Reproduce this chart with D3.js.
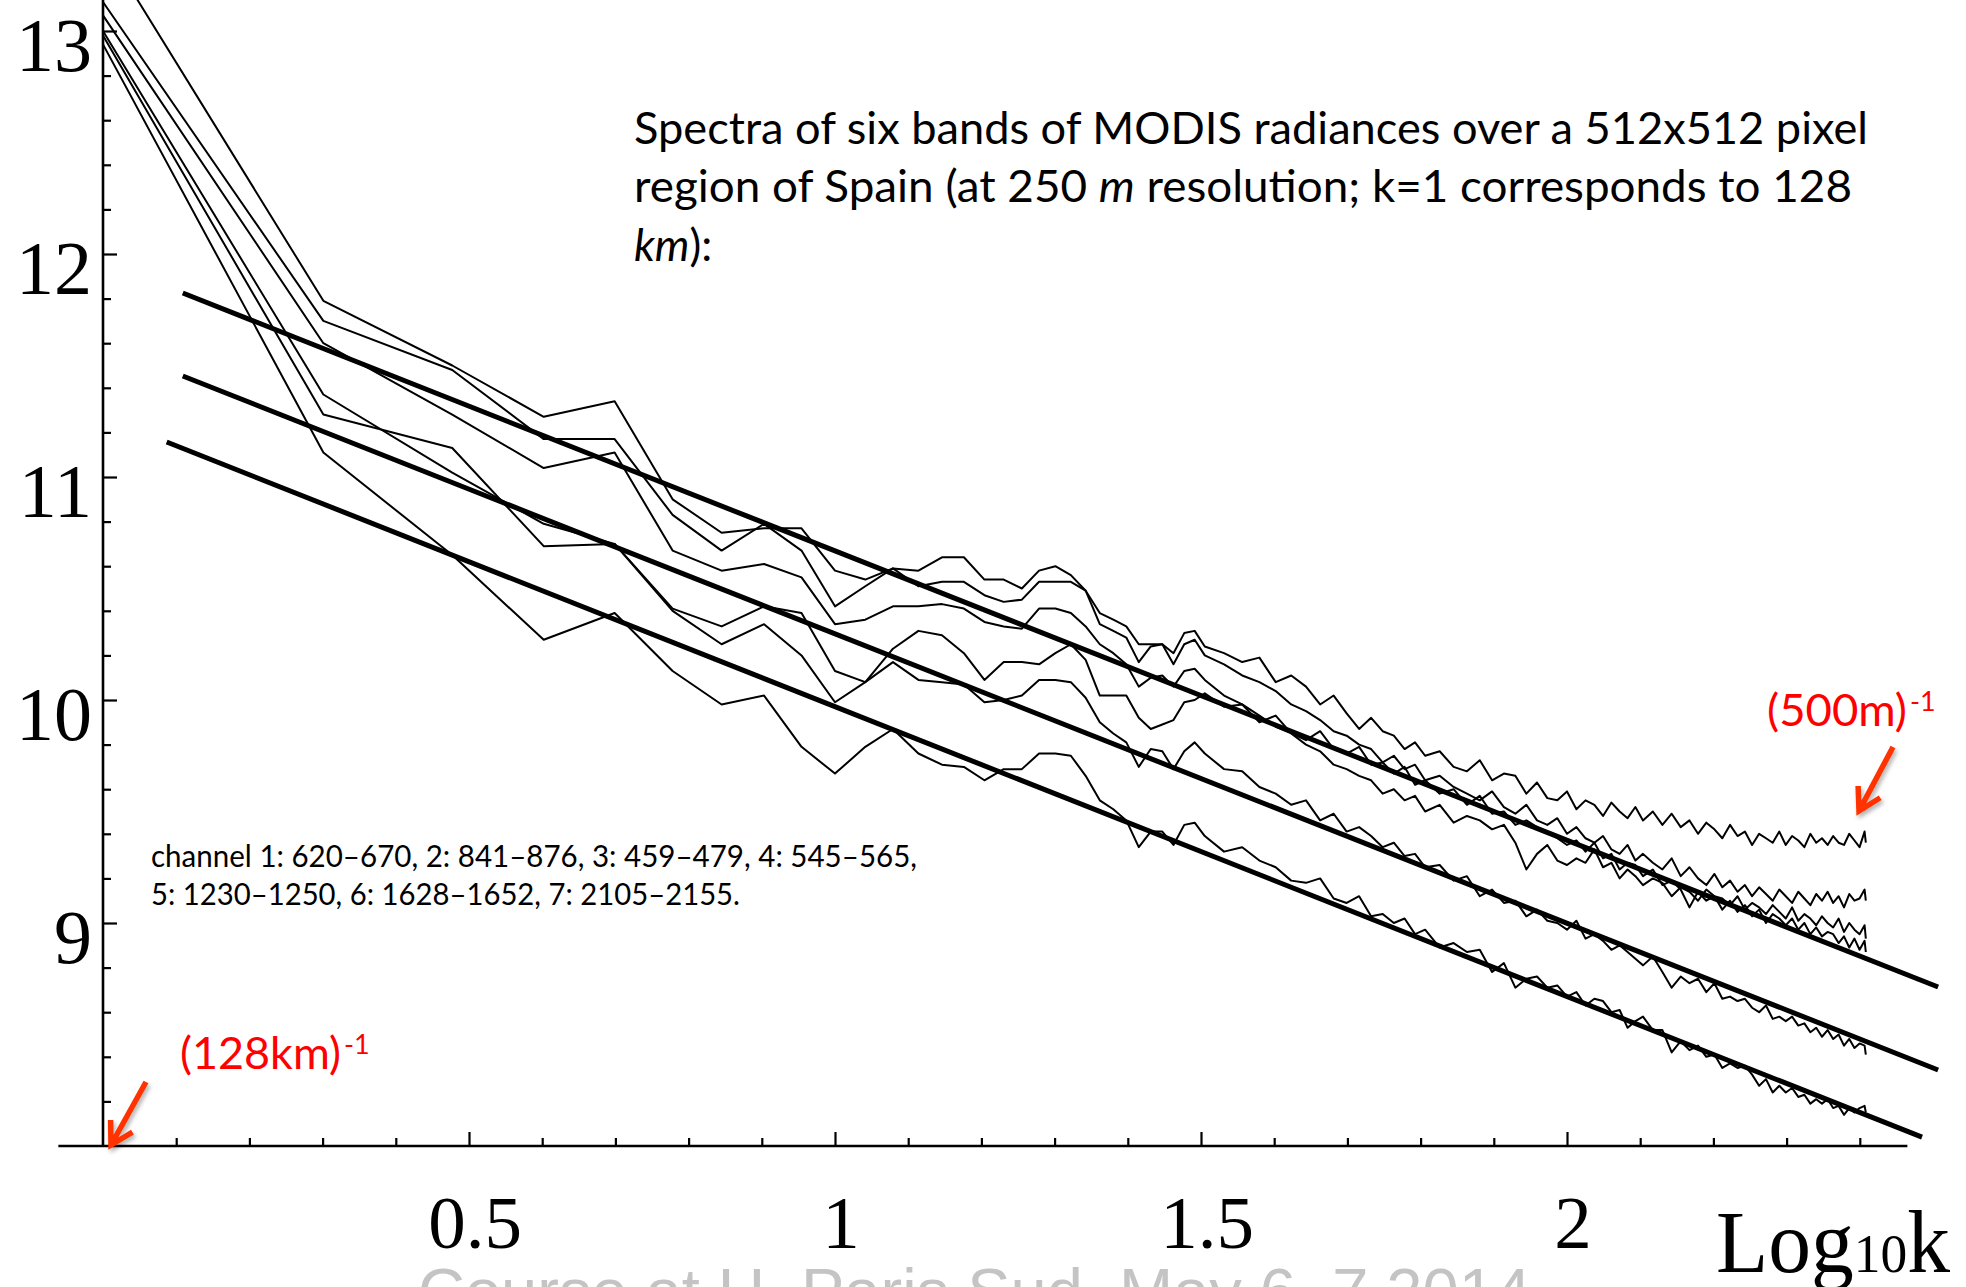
<!DOCTYPE html>
<html>
<head>
<meta charset="utf-8">
<script src="https://cdn.jsdelivr.net/npm/d3@7"></script>
<style>
  html, body { margin: 0; padding: 0; background: #fff; }
  #spectra-plot-container { width: 1966px; height: 1287px; overflow: hidden; }
</style>
</head>
<body>
<div id="spectra-plot-container"></div>
<script>
(function () {
"use strict";

////////////////////////////////////////////////////////////////////////////////
//
// MODIS radiance spectra over Spain, log10 E(k) vs log10 k
//
////////////////////////////////////////////////////////////////////////////////

// wavenumbers sampled (k=1 <-> 128 km)
var kLow = [1, 2, 3, 4, 5, 6, 7, 8, 9, 10, 11, 12, 13, 14, 15, 16, 17, 18, 19, 20,
  21, 22, 23, 24, 25, 26, 27, 28, 29, 30, 31];
var kHigh = [32, 34, 36, 38, 40, 42, 44, 46, 48, 50, 52, 54, 56, 58, 60, 62, 64,
  67, 70, 73, 76, 79, 82, 85, 88, 91, 94, 97, 100, 103, 106, 109, 112, 115, 118, 121, 124, 127,
  131, 135, 139, 143, 147, 151, 155, 159, 163, 167, 171, 175, 179, 183, 187, 191, 195, 199, 203, 207,
  211, 215, 219, 223, 227, 231, 235, 239, 243, 247, 251, 255, 256];

// log10 spectral density, one pair of arrays per band
var band1Low = [13.39, 11.79, 11.50, 11.27, 11.34, 10.90, 10.75, 10.77, 10.77, 10.58, 10.54, 10.59, 10.58, 10.64, 10.64, 10.54, 10.54, 10.50, 10.58, 10.60,
  10.56, 10.49, 10.39, 10.36, 10.33, 10.25, 10.25, 10.25, 10.21, 10.30, 10.31];
var band1High = [10.24, 10.21, 10.17, 10.19, 10.08, 10.11, 10.06, 9.98, 10.02, 9.94, 9.87, 9.92, 9.86, 9.84, 9.78, 9.81, 9.75,
  9.77, 9.70, 9.68, 9.73, 9.64, 9.67, 9.66, 9.58, 9.63, 9.56, 9.55, 9.59, 9.51, 9.55, 9.53, 9.48, 9.54, 9.50, 9.47, 9.52, 9.46,
  9.50, 9.44, 9.49, 9.43, 9.46, 9.40, 9.45, 9.42, 9.38, 9.44, 9.39, 9.41, 9.35, 9.40, 9.38, 9.36, 9.41, 9.35, 9.39, 9.37,
  9.34, 9.40, 9.36, 9.38, 9.35, 9.39, 9.36, 9.35, 9.40, 9.37, 9.34, 9.41, 9.36];

var band2Low = [13.13, 11.70, 11.48, 11.17, 11.17, 10.83, 10.67, 10.79, 10.67, 10.42, 10.51, 10.59, 10.51, 10.53, 10.53, 10.47, 10.44, 10.45, 10.53, 10.53,
  10.53, 10.49, 10.34, 10.31, 10.28, 10.17, 10.24, 10.25, 10.16, 10.25, 10.27];
var band2High = [10.20, 10.16, 10.11, 10.08, 10.04, 9.98, 9.95, 9.91, 9.86, 9.84, 9.80, 9.78, 9.72, 9.75, 9.69, 9.71, 9.64,
  9.66, 9.61, 9.58, 9.55, 9.59, 9.52, 9.49, 9.53, 9.46, 9.44, 9.47, 9.40, 9.43, 9.38, 9.36, 9.39, 9.33, 9.31, 9.35, 9.28, 9.31,
  9.27, 9.24, 9.29, 9.21, 9.25, 9.20, 9.17, 9.22, 9.16, 9.19, 9.14, 9.17, 9.12, 9.16, 9.13, 9.10, 9.15, 9.12, 9.09, 9.14,
  9.11, 9.08, 9.13, 9.10, 9.14, 9.09, 9.12, 9.07, 9.13, 9.10, 9.11, 9.15, 9.10];

var band3Low = [13.07, 11.60, 11.28, 11.04, 11.11, 10.67, 10.58, 10.61, 10.55, 10.34, 10.36, 10.42, 10.42, 10.43, 10.41, 10.35, 10.33, 10.32, 10.41, 10.41,
  10.39, 10.33, 10.25, 10.21, 10.16, 10.06, 10.10, 10.11, 10.06, 10.13, 10.14];
var band3High = [10.09, 10.02, 9.98, 9.93, 9.88, 9.85, 9.80, 9.77, 9.71, 9.69, 9.66, 9.64, 9.58, 9.60, 9.55, 9.57, 9.50,
  9.53, 9.45, 9.48, 9.46, 9.42, 9.44, 9.36, 9.24, 9.31, 9.35, 9.28, 9.26, 9.29, 9.27, 9.33, 9.25, 9.27, 9.20, 9.24, 9.21, 9.17,
  9.20, 9.18, 9.12, 9.16, 9.14, 9.10, 9.15, 9.12, 9.11, 9.08, 9.12, 9.06, 9.09, 9.07, 9.04, 9.08, 9.05, 9.02, 9.07, 9.01,
  9.04, 9.02, 8.99, 9.03, 9.00, 8.98, 9.02, 8.96, 9.00, 8.97, 8.95, 8.99, 8.93];

var band4Low = [13.00, 11.37, 11.02, 10.79, 10.70, 10.41, 10.33, 10.42, 10.39, 10.13, 10.08, 10.23, 10.31, 10.29, 10.21, 10.09, 10.17, 10.17, 10.16, 10.21,
  10.25, 10.18, 10.02, 10.02, 10.02, 9.92, 9.87, 9.89, 9.91, 9.99, 10.00];
var band4High = [10.03, 9.97, 9.98, 9.90, 9.93, 9.85, 9.82, 9.86, 9.78, 9.76, 9.79, 9.71, 9.72, 9.67, 9.70, 9.62, 9.64,
  9.58, 9.60, 9.53, 9.57, 9.49, 9.50, 9.44, 9.46, 9.43, 9.41, 9.38, 9.35, 9.37, 9.32, 9.36, 9.29, 9.31, 9.24, 9.27, 9.26, 9.21,
  9.24, 9.17, 9.19, 9.15, 9.07, 9.14, 9.10, 9.12, 9.06, 9.10, 9.05, 9.08, 9.03, 9.06, 9.00, 9.04, 9.02, 8.99, 9.02, 8.97,
  9.00, 8.95, 8.98, 8.94, 8.96, 8.95, 8.91, 8.94, 8.89, 8.93, 8.88, 8.92, 8.87];

var band5Low = [12.98, 11.28, 11.13, 10.69, 10.70, 10.40, 10.25, 10.34, 10.20, 9.99, 10.08, 10.17, 10.09, 10.08, 10.07, 9.99, 10.00, 10.02, 10.09, 10.09,
  10.08, 10.01, 9.90, 9.85, 9.81, 9.70, 9.78, 9.77, 9.69, 9.77, 9.81];
var band5High = [9.76, 9.69, 9.68, 9.61, 9.58, 9.53, 9.55, 9.46, 9.49, 9.41, 9.43, 9.39, 9.34, 9.36, 9.30, 9.31, 9.25,
  9.26, 9.19, 9.21, 9.12, 9.15, 9.09, 9.10, 9.03, 9.06, 9.01, 9.00, 8.97, 9.01, 8.93, 8.95, 8.92, 8.88, 8.90, 8.87, 8.84, 8.81,
  8.85, 8.78, 8.71, 8.76, 8.73, 8.75, 8.69, 8.73, 8.66, 8.67, 8.65, 8.66, 8.62, 8.60, 8.63, 8.57, 8.58, 8.56, 8.58, 8.54,
  8.55, 8.51, 8.53, 8.49, 8.52, 8.48, 8.50, 8.45, 8.48, 8.44, 8.46, 8.45, 8.41];

var band6Low = [12.94, 11.11, 10.65, 10.27, 10.39, 10.13, 9.98, 10.02, 9.79, 9.67, 9.79, 9.87, 9.76, 9.71, 9.70, 9.64, 9.69, 9.69, 9.76, 9.76,
  9.75, 9.66, 9.55, 9.51, 9.46, 9.34, 9.41, 9.41, 9.35, 9.44, 9.45];
var band6High = [9.39, 9.32, 9.34, 9.28, 9.25, 9.19, 9.18, 9.20, 9.11, 9.09, 9.12, 9.03, 9.04, 9.00, 9.02, 8.95, 8.97,
  8.89, 8.91, 8.87, 8.88, 8.78, 8.82, 8.71, 8.75, 8.76, 8.71, 8.72, 8.67, 8.69, 8.63, 8.66, 8.65, 8.60, 8.61, 8.53, 8.56, 8.58,
  8.52, 8.52, 8.42, 8.47, 8.43, 8.45, 8.40, 8.41, 8.35, 8.37, 8.35, 8.36, 8.32, 8.27, 8.30, 8.24, 8.27, 8.24, 8.26, 8.22,
  8.23, 8.19, 8.21, 8.19, 8.21, 8.17, 8.18, 8.14, 8.17, 8.15, 8.17, 8.18, 8.15];

// straight reference fits (log10 k, log10 E) at each end
var fitX0 = [0.109, 0.109, 0.087];
var fitY0 = [11.825, 11.453, 11.157];
var fitX1 = [2.507, 2.507, 2.485];
var fitY1 = [8.713, 8.341, 8.040];

// axes
var xMajorTicks = [0.5, 1, 1.5, 2];
var xTickLabels = ["0.5", "1", "1.5", "2"];
var yMajorTicks = [9, 10, 11, 12, 13];
var yTickLabels = ["9", "10", "11", "12", "13"];

var titleLines = ["Spectra of six bands of MODIS radiances over a 512x512 pixel",
                  "region of Spain (at 250 ", "m", " resolution; k=1 corresponds to 128"];
var channelLines = ["channel 1: 620\u2013670, 2: 841\u2013876, 3: 459\u2013479, 4: 545\u2013565,",
                    "5: 1230\u20131250, 6: 1628\u20131652, 7: 2105\u20132155."];

function initSpectraPlot() {
  var containerID = "#spectra-plot-container";
  var fullWidth = 1966,
      fullHeight = 1287;

  var xScale = d3.scaleLinear()
    .domain([0, 2.5])
    .range([103, 103 + 2.5 * 732]);

  var yScale = d3.scaleLinear()
    .domain([8, 13])
    .range([1146, 1146 - 5 * 223]);

  var svg = d3.select(containerID).append("svg")
    .attr("width", fullWidth)
    .attr("height", fullHeight)
    .attr("viewBox", "0 0 " + fullWidth + " " + fullHeight)
    .style("background", "#fff");

  var defs = svg.append("defs");
  var shadow = defs.append("filter")
      .attr("id", "arrow-shadow")
      .attr("x", "-50%").attr("y", "-50%")
      .attr("width", "200%").attr("height", "200%");
  shadow.append("feDropShadow")
      .attr("dx", 2).attr("dy", 3)
      .attr("stdDeviation", 2)
      .attr("flood-color", "#000")
      .attr("flood-opacity", 0.3);

  // Watermark at the bottom (sits under everything)
  svg.append("text")
    .attr("x", 418)
    .attr("y", 1314)
    .attr("textLength", 1113)
    .attr("lengthAdjust", "spacingAndGlyphs")
    .style("font-family", "'Liberation Sans', Arial, sans-serif")
    .style("font-size", "65px")
    .style("fill", "#c4c4c4")
    .text("Course at U. Paris Sud, May 6, 7 2014");

  // Ticks
  var xMinor = d3.range(1, 25).map(function(d) { return d / 10; })
    .filter(function(d) { return xMajorTicks.indexOf(d) < 0; });
  var yMinor = d3.range(41, 65).map(function(d) { return d / 5; })
    .filter(function(d) { return yMajorTicks.indexOf(d) < 0; });

  function styleAxis(g) {
    g.select(".domain").remove();
    g.selectAll("line").style("stroke", "#000").style("stroke-width", 2.2);
  }

  svg.append("g")
      .attr("transform", "translate(0," + yScale(8) + ")")
      .call(d3.axisTop(xScale).tickValues(xMinor).tickSize(8).tickFormat(""))
      .call(styleAxis);
  svg.append("g")
      .attr("transform", "translate(0," + yScale(8) + ")")
      .call(d3.axisTop(xScale).tickValues(xMajorTicks).tickSize(14).tickFormat(""))
      .call(styleAxis);
  svg.append("g")
      .attr("transform", "translate(" + xScale(0) + ",0)")
      .call(d3.axisRight(yScale).tickValues(yMinor).tickSize(8).tickFormat(""))
      .call(styleAxis);
  svg.append("g")
      .attr("transform", "translate(" + xScale(0) + ",0)")
      .call(d3.axisRight(yScale).tickValues(yMajorTicks).tickSize(14).tickFormat(""))
      .call(styleAxis);

  // Axis lines
  svg.append("line")
    .attr("x1", xScale(-0.061)).attr("x2", xScale(2.465))
    .attr("y1", yScale(8)).attr("y2", yScale(8))
    .style("stroke", "#000").style("stroke-width", 2.6);
  svg.append("line")
    .attr("x1", xScale(0)).attr("x2", xScale(0))
    .attr("y1", 0).attr("y2", yScale(8))
    .style("stroke", "#000").style("stroke-width", 2.6);

  // Tick labels
  var serif = "'Liberation Serif', 'Times New Roman', serif";
  svg.append("g").selectAll("text")
      .data(xMajorTicks)
    .enter().append("text")
      .attr("x", function(d) { return xScale(d) + 6; })
      .attr("y", 1248)
      .style("text-anchor", "middle")
      .style("font-family", serif)
      .style("font-size", "75px")
      .text(function(d, i) { return xTickLabels[i]; });

  svg.append("g").selectAll("text")
      .data(yMajorTicks)
    .enter().append("text")
      .attr("x", 92)
      .attr("y", function(d) { return yScale(d) + 40; })
      .style("text-anchor", "end")
      .style("font-family", serif)
      .style("font-size", "76px")
      .text(function(d, i) { return yTickLabels[i]; });

  var xLabel = svg.append("text")
    .attr("x", 1716)
    .attr("y", 1272)
    .attr("textLength", 234)
    .attr("lengthAdjust", "spacingAndGlyphs")
    .style("font-family", serif)
    .style("font-size", "88px");
  xLabel.append("tspan").text("Log");
  xLabel.append("tspan").style("font-size", "55px").text("10");
  xLabel.append("tspan").text("k");

  // Spectra
  var kValues = kLow.concat(kHigh);
  var bands = [band1Low.concat(band1High), band2Low.concat(band2High), band3Low.concat(band3High),
               band4Low.concat(band4High), band5Low.concat(band5High), band6Low.concat(band6High)];
  var spectrumLine = d3.line()
    .x(function(d) { return xScale(Math.log10(d[0])); })
    .y(function(d) { return yScale(d[1]); });

  svg.append("g")
      .attr("id", "spectra-group")
    .selectAll("path")
      .data(bands)
    .enter().append("path")
      .attr("d", function(b) { return spectrumLine(d3.zip(kValues, b)); })
      .style("fill", "none")
      .style("stroke", "#000")
      .style("stroke-width", 2)
      .style("stroke-linejoin", "round");

  // Fits
  var fitLine = d3.line()
    .x(function(d) { return xScale(d[0]); })
    .y(function(d) { return yScale(d[1]); });

  svg.append("g")
      .attr("id", "fit-group")
    .selectAll("path")
      .data(d3.range(fitX0.length))
    .enter().append("path")
      .attr("d", function(i) { return fitLine([[fitX0[i], fitY0[i]], [fitX1[i], fitY1[i]]]); })
      .style("fill", "none")
      .style("stroke", "#000")
      .style("stroke-width", 5);

  // Title block
  var sans = "Lato, 'Open Sans', sans-serif";
  var title = svg.append("g").style("font-family", sans).style("font-size", "44px").style("fill", "#000");
  title.append("text")
    .attr("x", 634).attr("y", 144)
    .attr("textLength", 1234).attr("lengthAdjust", "spacingAndGlyphs")
    .text(titleLines[0]);
  var t2 = title.append("text")
    .attr("x", 634).attr("y", 202)
    .attr("textLength", 1218).attr("lengthAdjust", "spacingAndGlyphs");
  t2.append("tspan").text(titleLines[1]);
  t2.append("tspan").style("font-style", "italic").text(titleLines[2]);
  t2.append("tspan").text(titleLines[3]);
  var t3 = title.append("text")
    .attr("x", 634).attr("y", 261);
  t3.append("tspan").style("font-style", "italic").text("km");
  t3.append("tspan").text("):");

  // Channel wavelength note
  var note = svg.append("g").style("font-family", sans).style("font-size", "30px").style("fill", "#000");
  note.append("text")
    .attr("x", 151).attr("y", 867)
    .attr("textLength", 766).attr("lengthAdjust", "spacingAndGlyphs")
    .text(channelLines[0]);
  note.append("text")
    .attr("x", 151).attr("y", 905)
    .attr("textLength", 589).attr("lengthAdjust", "spacingAndGlyphs")
    .text(channelLines[1]);

  // Red annotations
  function redLabel(x, y, w, main, sup) {
    var g = svg.append("g").style("font-family", sans).style("fill", "#ff0000");
    g.append("text")
      .attr("x", x).attr("y", y)
      .attr("textLength", w).attr("lengthAdjust", "spacingAndGlyphs")
      .style("font-size", "45px")
      .text(main);
    g.append("text")
      .attr("x", x + w + 3).attr("y", y - 15)
      .style("font-size", "27px")
      .text(sup);
  }
  redLabel(180, 1069, 161, "(128km)", "-1");
  redLabel(1767, 726, 140, "(500m)", "-1");

  function arrow(x0, y0, x1, y1) {
    var ang = Math.atan2(y0 - y1, x0 - x1),
        len = 25,
        a1 = ang + Math.PI / 6,
        a2 = ang - Math.PI / 6;
    var d = "M" + x0 + "," + y0 + "L" + x1 + "," + y1 +
            "M" + (x1 + len * Math.cos(a1)) + "," + (y1 + len * Math.sin(a1)) +
            "L" + x1 + "," + y1 +
            "L" + (x1 + len * Math.cos(a2)) + "," + (y1 + len * Math.sin(a2));
    svg.append("path")
      .attr("d", d)
      .attr("filter", "url(#arrow-shadow)")
      .style("fill", "none")
      .style("stroke", "#ff3300")
      .style("stroke-width", 5.5)
      .style("stroke-linecap", "butt")
      .style("stroke-linejoin", "miter");
  }
  arrow(146, 1082, 111, 1145);
  arrow(1893, 747, 1859, 811);
}

initSpectraPlot();

})();
</script>
</body>
</html>
